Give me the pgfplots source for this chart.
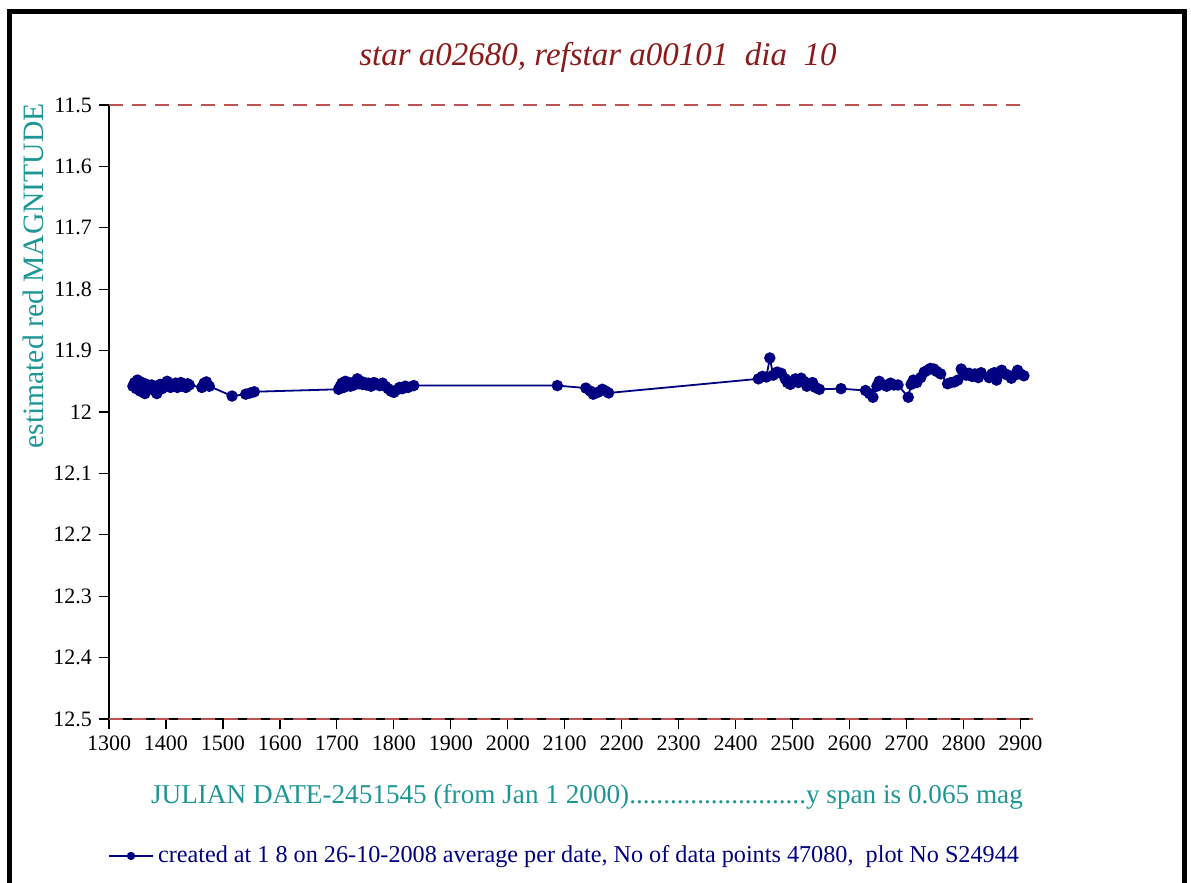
\documentclass[border=0pt]{standalone}
\usepackage{pgfplots}
\pgfplotsset{compat=1.18}
\usepackage{fontspec}
\setmainfont{Liberation Serif}
\definecolor{navy}{RGB}{0,0,128}
\definecolor{ttl}{RGB}{139,26,26}
\definecolor{tealc}{RGB}{30,150,150}
\definecolor{dred}{RGB}{190,80,80}
\begin{document}
\begin{tikzpicture}
\useasboundingbox (0,0) rectangle (595.5pt,441.5pt);
\draw[line width=2.5pt] (4.5pt,0) -- (4.5pt,435.5pt) -- (592pt,435.5pt) -- (592pt,0);
\node[font=\fontsize{16.5pt}{19pt}\selectfont\itshape, text=ttl] at (299pt,413pt) {star a02680, refstar a00101~ dia~ 10};
\node[font=\fontsize{14.8pt}{17pt}\selectfont, text=tealc, rotate=90] at (16.5pt,303.5pt) {estimated red MAGNITUDE};
\node[font=\fontsize{13.6pt}{16pt}\selectfont, text=tealc] at (293.5pt,43pt) {JULIAN DATE-2451545 (from Jan 1 2000)..........................y span is 0.065 mag};
\begin{axis}[
  at={(54.5pt,82pt)}, anchor=south west,
  width=462pt, height=307pt, scale only axis,
  xmin=1300, xmax=2922, ymin=11.5, ymax=12.5,
  y dir=reverse,
  axis x line=bottom, axis y line=left,
  axis line style={-, black, line width=0.8pt},
  xtick={1300,1400,...,2900},
  ytick={11.5,11.6,...,12.5},
  tick align=outside, major tick length=5pt,
  tick style={black, line width=0.6pt},
  /pgf/number format/assume math mode=true,
  xticklabel style={font=\fontsize{11pt}{13pt}\selectfont, /pgf/number format/1000 sep={}},
  yticklabel style={font=\fontsize{11pt}{13pt}\selectfont, /pgf/number format/fixed, /pgf/number format/precision=1},
  scaled ticks=false,
  legend style={at={(axis description cs:0.494,-0.223)}, anchor=center, draw=none, fill=none,
    font=\fontsize{12.1pt}{14pt}\selectfont, text=navy},
  legend cell align=left,
  clip=false,
]
\draw[dred, line width=0.8pt, dash pattern=on 7pt off 4.5pt] (axis cs:1300,11.5) -- (axis cs:2900,11.5);
\draw[dred, line width=0.8pt, dash pattern=on 7pt off 4.5pt] (axis cs:1300,12.5) -- (axis cs:2922,12.5);
\addplot[navy, line width=0.9pt, mark=*, mark size=2.4pt, mark options={fill=navy, draw=navy},
  legend image code/.code={\draw[navy, line width=1pt] (0pt,0pt) -- (22pt,0pt); \fill[navy] (11pt,0pt) circle (1.6pt);}]
coordinates {
(1342,11.958)(1345,11.952)(1348,11.962)(1350,11.948)(1353,11.955)(1355,11.966)(1358,11.952)(1360,11.960)
(1363,11.970)(1366,11.955)(1369,11.958)(1372,11.962)(1375,11.956)(1378,11.960)(1381,11.966)(1384,11.970)
(1387,11.960)(1390,11.955)(1393,11.962)(1396,11.958)(1399,11.954)(1402,11.950)(1405,11.956)(1408,11.960)
(1411,11.955)(1414,11.958)(1417,11.953)(1420,11.960)(1423,11.956)(1426,11.952)(1429,11.958)(1432,11.955)
(1435,11.960)(1438,11.954)(1441,11.956)(1463,11.960)(1467,11.953)(1471,11.951)(1476,11.958)
(1516,11.974)(1540,11.971)(1548,11.969)(1555,11.967)
(1703,11.963)(1706,11.958)(1709,11.953)(1712,11.960)(1715,11.950)(1718,11.957)(1721,11.952)(1724,11.958)
(1727,11.953)(1730,11.956)(1733,11.950)(1736,11.946)(1739,11.954)(1742,11.950)(1745,11.955)(1748,11.952)
(1752,11.956)(1755,11.953)(1760,11.958)(1765,11.952)(1770,11.955)(1775,11.957)(1780,11.953)(1785,11.958)
(1790,11.962)(1795,11.966)(1800,11.968)(1805,11.964)(1810,11.960)(1815,11.962)(1820,11.958)(1825,11.960)
(1835,11.957)
(2087,11.957)(2137,11.961)(2145,11.966)(2150,11.971)(2158,11.968)(2166,11.963)(2172,11.966)(2177,11.969)
(2440,11.946)(2447,11.942)(2454,11.943)(2460,11.912)(2466,11.940)(2473,11.935)(2480,11.937)(2487,11.946)
(2491,11.952)(2496,11.955)(2500,11.950)(2505,11.946)(2510,11.952)(2515,11.945)(2520,11.950)(2525,11.958)
(2530,11.955)(2535,11.952)(2540,11.960)(2547,11.963)(2585,11.962)(2628,11.965)(2635,11.970)(2641,11.976)
(2648,11.958)(2652,11.950)(2658,11.955)(2665,11.958)(2672,11.953)(2678,11.956)(2685,11.956)(2703,11.976)
(2708,11.955)(2712,11.948)(2718,11.952)(2725,11.944)(2731,11.935)(2737,11.932)(2742,11.929)(2748,11.930)
(2753,11.934)(2760,11.938)(2772,11.954)(2778,11.952)(2784,11.951)(2790,11.948)(2796,11.930)(2800,11.935)
(2805,11.940)(2810,11.937)(2815,11.942)(2820,11.938)(2826,11.944)(2831,11.936)(2845,11.944)(2850,11.938)
(2854,11.936)(2858,11.948)(2863,11.935)(2867,11.932)(2873,11.938)(2878,11.940)(2884,11.945)(2890,11.940)
(2895,11.932)(2900,11.938)(2906,11.941)
};
\addlegendentry{created at 1 8 on 26-10-2008 average per date, No of data points 47080,~ plot No S24944}
\end{axis}
\end{tikzpicture}
\end{document}
